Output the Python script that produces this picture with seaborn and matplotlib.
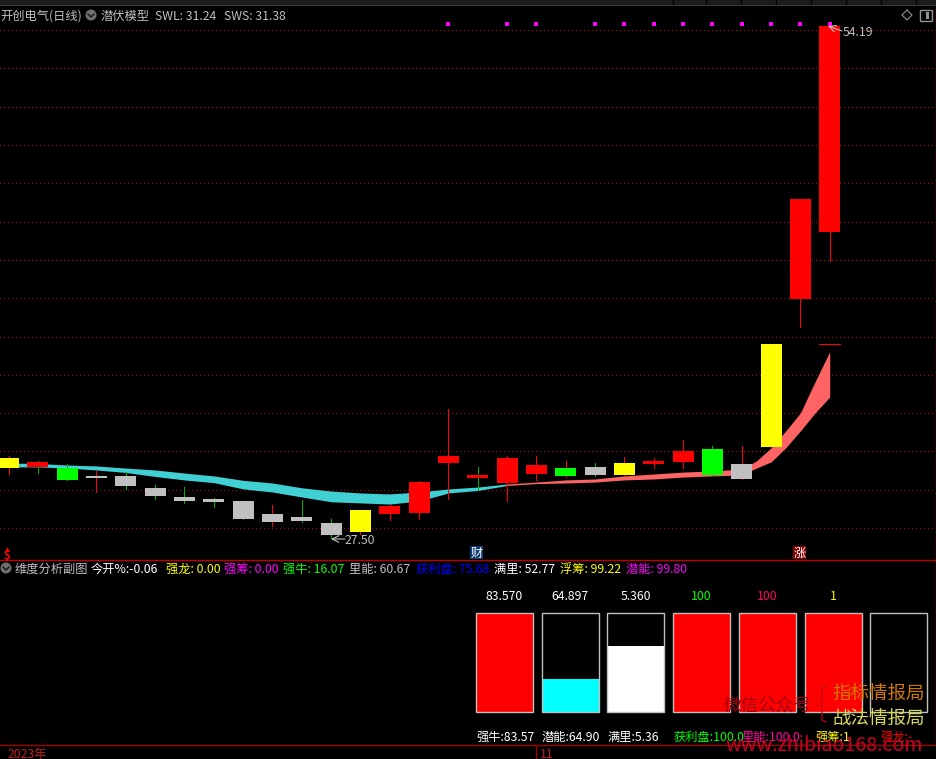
import numpy as np
import pandas as pd
import seaborn as sns
import matplotlib.pyplot as plt
from matplotlib.patches import Rectangle, Circle

sns.set_theme(style="dark", rc={"axes.facecolor": "black", "figure.facecolor": "black"})
plt.rcParams['font.family'] = ['Noto Sans CJK SC', 'DejaVu Sans']

# candles: body top/bottom and wick high/low
body_top = [31.66, 31.45, 31.13, 30.72, 30.72, 30.09, 29.62, 29.51, 29.41, 28.73, 28.57, 28.26, 28.94, 29.15, 30.40,
            31.76, 30.77, 31.66, 31.29, 31.13, 31.19, 31.39, 31.50, 32.02, 32.13, 31.34, 37.61, 45.18, 54.19]
body_bot = [31.13, 31.19, 30.51, 30.61, 30.19, 29.67, 29.41, 29.36, 28.47, 28.31, 28.37, 27.63, 27.79, 28.73, 28.78,
            31.39, 30.61, 30.35, 30.82, 30.72, 30.77, 30.77, 31.34, 31.45, 30.77, 30.56, 32.23, 39.96, 43.46]
high = [31.76, 31.50, 31.34, 30.98, 30.92, 30.25, 30.14, 29.57, 29.41, 29.20, 29.46, 28.47, 28.94, 29.25, 30.45,
        34.21, 31.19, 31.76, 31.76, 31.50, 31.39, 31.71, 31.66, 32.60, 32.28, 32.28, 37.61, 45.18, 54.19]
low = [30.82, 30.87, 30.51, 29.88, 30.04, 29.51, 29.31, 29.10, 28.47, 28.10, 28.31, 27.50, 27.69, 28.42, 28.47,
       29.51, 29.98, 29.41, 30.51, 30.66, 30.72, 30.77, 31.13, 31.13, 30.77, 30.56, 32.23, 38.50, 41.94]
body_col = list("yrgwwwwwwwwwyrrrrrrgwyrrgwyrr")
wick_col = list("rggrgggggrggrrrrgrrrgrrrgrrrr")

# SWL / SWS band, read at each bar and at half bars where it bends hard
band_x = list(range(26)) + [25.5, 26, 26.5, 27, 27.5, 28]
band_top = [31.39, 31.37, 31.29, 31.24, 31.13, 31.03, 30.87, 30.72, 30.49, 30.35, 30.10, 29.93, 29.83, 29.78, 29.88,
            30.04, 30.14, 30.30, 30.40, 30.51, 30.56, 30.72, 30.82, 30.92, 30.98, 31.08,
            31.50, 32.18, 33.07, 34.01, 35.64, 37.21]
band_bot = [31.19, 31.19, 31.13, 31.03, 30.90, 30.69, 30.51, 30.37, 30.04, 29.88, 29.62, 29.37, 29.31, 29.25, 29.41,
            29.83, 29.96, 30.22, 30.32, 30.35, 30.40, 30.51, 30.56, 30.66, 30.72, 30.77,
            31.13, 31.45, 32.19, 33.07, 34.01, 34.84]
band_turn = 17
flat_mark = 37.61

signal_idx = [15, 17, 18, 20, 21, 22, 23, 24, 25, 26, 27, 28]
signal_level = 54.32
grid_levels = list(range(28, 56, 2))

# gauges in the lower panel
gauge_names = ["强牛", "潜能", "满里", "获利盘", "里能", "强筹", "强龙"]
gauge_fill = [100, 33, 67, 100, 100, 100, 0]
gauge_cols = ["#ff0000", "#00ffff", "#ffffff", "#ff0000", "#ff0000", "#ff0000", "#ff0000"]
gauge_top = ["83.570", "64.897", "5.360", "100", "100", "1", ""]
gauge_top_cols = ["white", "white", "white", "#00ff00", "#ff0060", "#ffff00", "white"]
gauge_bot = ["强牛:83.57", "潜能:64.90", "满里:5.36", "获利盘:100.0", "里能:100.0", "强筹:1", "强龙:-"]
gauge_bot_cols = ["white", "white", "white", "#00ff00", "#ff00a0", "#ffff00", "#ff0000"]

header = [(91, "今开%:-0.06", "white"), (166, "强龙: 0.00", "#ffff00"), (224, "强筹: 0.00", "#ff00ff"),
          (283, "强牛: 16.07", "#00ff00"), (349, "里能: 60.67", "#c0c0c0"), (416, "获利盘: 75.68", "#0000ff"),
          (494, "满里: 52.77", "white"), (560, "浮筹: 99.22", "#ffff00"), (626, "潜能: 99.80", "#ff00ff")]

colors = {"r": "#ff0000", "g": "#00ff00", "w": "#c0c0c0", "y": "#ffff00"}
wicks = {"r": "#ff0000", "g": "#00b000"}

W, H = 936, 759
fig = plt.figure(figsize=(W / 100, H / 100), dpi=100)
ax = fig.add_axes([0, (H - 560) / H, 1, 560 / H])
sub = fig.add_axes([0, (H - 745) / H, 1, 185 / H])
top = fig.add_axes([0, 0, 1, 1], facecolor="none")

# main chart
idx = np.arange(len(body_top))
step = 29.33
for lv in grid_levels:
    ax.axhline(lv, color="#c00000", lw=0.72, ls=(0, (1, 3)), zorder=1, antialiased=False)

ax.fill_between(band_x[:band_turn + 1], band_bot[:band_turn + 1], band_top[:band_turn + 1],
                color="#40d0d4", lw=0, zorder=2)
ax.fill_between(band_x[band_turn:], band_bot[band_turn:], band_top[band_turn:],
                color="#ff6464", lw=0, zorder=2)

ax.vlines(idx, low, high, colors=[wicks[c] for c in wick_col], lw=0.7, zorder=3, antialiased=False)
ax.bar(idx, np.array(body_top) - np.array(body_bot), bottom=body_bot, width=21 / step,
       color=[colors[c] for c in body_col], lw=0, zorder=4)
ax.hlines(flat_mark, 28 - 10.5 / step, 28 + 10.5 / step, color="#ff0000", lw=0.7, zorder=4, antialiased=False)

sig = pd.DataFrame({"i": signal_idx, "v": [signal_level] * len(signal_idx)})
sns.scatterplot(data=sig, x="i", y="v", color="#ff00ff", marker="s", s=5, lw=0, ax=ax, zorder=5)

ax.set_xlim(-8.5 / step, (W - 8.5) / step)
ax.set_ylim(28 + (528 - 560) / 19.15, 28 + 528 / 19.15)
ax.set_xlabel("")
ax.set_ylabel("")
ax.set_xticks([])
ax.set_yticks([])
for s in ax.spines.values():
    s.set_visible(False)

# lower panel gauges
g = pd.DataFrame({"name": gauge_names, "fill": gauge_fill})
sns.barplot(data=g, x="name", y="fill", hue="name", palette=gauge_cols, legend=False, saturation=1,
            width=57 / 65.7, lw=0, ax=sub, zorder=2)
sub.bar(range(len(gauge_names)), [100] * len(gauge_names), width=57 / 65.7,
        facecolor="none", edgecolor="#c0c0c0", lw=1, zorder=3)
sub.set_xlim(-504.5 / 65.7, (W - 504.5) / 65.7)
sub.set_ylim(-33 / 0.99, 152 / 0.99)
sub.set_xlabel("")
sub.set_ylabel("")
sub.set_xticks([])
sub.set_yticks([])
for s in sub.spines.values():
    s.set_visible(False)

# overlay in pixel coordinates for captions, lines and icons
top.set_xlim(0, W)
top.set_ylim(H, 0)
top.axis("off")


def label(x, y, s, color="#c0c0c0", size=8.8, ha="left", **kw):
    top.text(x, y + size * 0.15, s, color=color, fontsize=size, ha=ha, va="center", **kw)


def menu_icon(x, y):
    top.add_patch(Circle((x, y), 5.5, color="#707070", lw=0))
    top.plot([x - 3, x, x + 3], [y - 1, y + 2, y - 1], color="#202020", lw=1.2)


top.add_patch(Rectangle((0, 0), W, 5, color="#1c1c1c", lw=0))
for x in [673, 706, 741, 776, 811, 846, 881, 916]:
    top.plot([x, x], [0, 5], color="#000000", lw=1)
top.plot([0, W], [5, 5], color="#3a3a3a", lw=0.8)
top.plot([0, W], [560, 560], color="#c00000", lw=1)
top.plot([0, W], [745, 745], color="#a00000", lw=1)
top.plot([935.5, 935.5], [5, 745], color="#a00000", lw=1)
top.plot([536, 536], [745, H], color="#a00000", lw=1)

label(0, 15, "开创电气(日线)")
menu_icon(91, 15)
label(101, 15, "潜伏模型")
label(155, 15, "SWL: 31.24")
label(224, 15, "SWS: 31.38")
top.plot([907, 912, 907, 902, 907], [10, 15, 20, 15, 10], color="#909090", lw=0.8)
top.add_patch(Rectangle((920, 10), 12, 11, facecolor="none", edgecolor="#909090", lw=1))
top.add_patch(Rectangle((926, 12), 3, 7, color="#909090", lw=0))

top.annotate("", xy=(331, 539), xytext=(345, 539),
             arrowprops=dict(arrowstyle="->", color="#c0c0c0", lw=0.8, shrinkA=0, shrinkB=0))
label(345, 539, "27.50")
top.annotate("", xy=(828, 26), xytext=(842, 31),
             arrowprops=dict(arrowstyle="->", color="#c0c0c0", lw=0.8, shrinkA=0, shrinkB=0))
label(843, 31, "54.19")

top.plot([7], [549], marker="^", ms=3.5, color="#ff0000", mew=0)
label(3, 554, "$", color="#ff0000", size=8, fontweight="bold")
top.add_patch(Rectangle((470, 546), 13, 13, color="#0a3a70", lw=0))
label(476.5, 552, "财", color="white", ha="center")
top.add_patch(Rectangle((793, 546), 13, 13, color="#800000", lw=0))
label(799.5, 552, "涨", color="white", ha="center")

menu_icon(6, 568)
label(15, 568, "维度分析副图")
for x, s, c in header:
    label(x, 568, s, color=c)

for i in range(len(gauge_names)):
    cx = 504.5 + 65.7 * i
    label(cx, 595, gauge_top[i], color=gauge_top_cols[i], ha="center")
for x, s, c in zip([476, 542, 607, 674, 741, 815, 880], gauge_bot, gauge_bot_cols):
    label(x, 736, s, color=c)

# watermark
label(724, 705, "微信公众号", color="#a00010", size=12.7)
top.plot([826, 822, 822, 819, 822, 822, 826], [686, 688, 702, 704, 706, 720, 722], color="#c00018", lw=0.9)
label(832, 693, "指标情报局", color="#d07800", size=13.3)
label(832, 718, "战法情报局", color="#d8d860", size=13.3)
label(725, 743, "www.zhibiao168.com", color="#e00028", size=14.1, alpha=0.9)

label(8, 753, "2023年", color="#c02020")
label(540, 753, "11", color="#c02020")

plt.savefig("out.png", dpi=100, facecolor="black")
